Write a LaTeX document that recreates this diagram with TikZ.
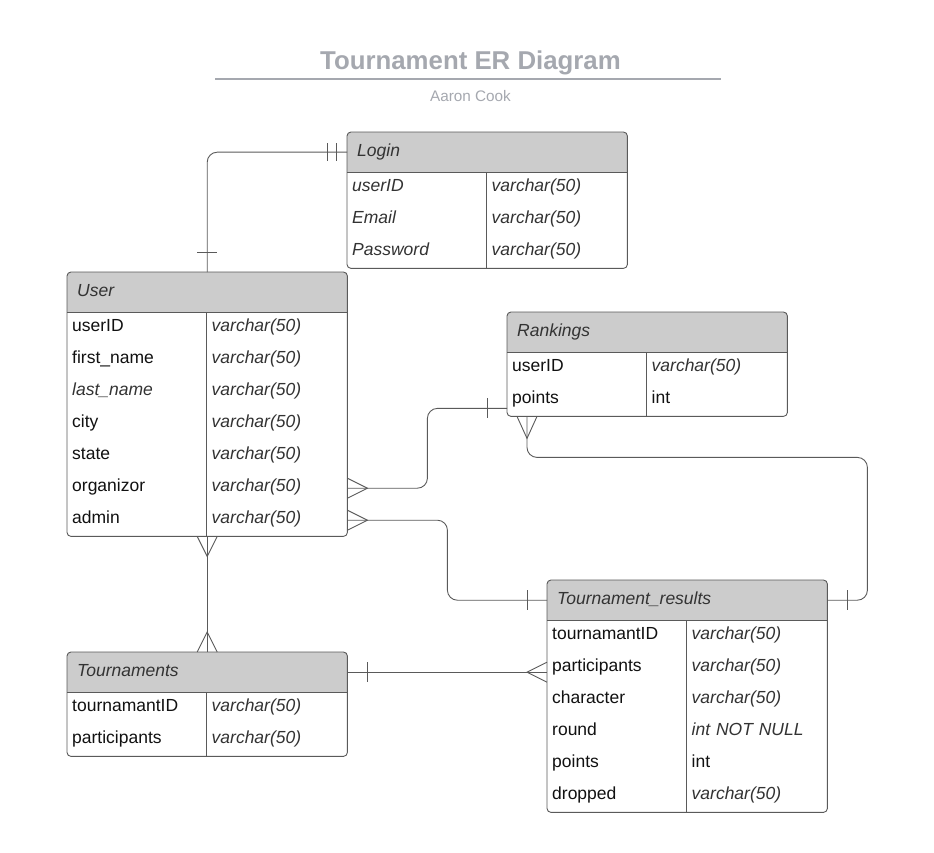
\documentclass[tikz,border=0pt]{standalone}
\usepackage{fontspec}
\setmainfont{Liberation Sans}
\usetikzlibrary{calc}
\definecolor{hdrgray}{HTML}{CCCCCC}
\definecolor{linegray}{HTML}{5A5A5A}
\definecolor{titlegray}{HTML}{A5A8AF}
\definecolor{txtdark}{HTML}{333333}
\definecolor{txtblack}{HTML}{111111}
\tikzset{
  tbl/.style={rectangle, fill=white, minimum width=280pt, inner sep=0pt},
  tblline/.style={draw=linegray, line width=0.9pt},
  hdrbox/.style={rectangle, minimum height=40pt, text width=260pt, inner xsep=10pt, inner ysep=0pt, align=left,
     text height=12.5pt, text depth=4.5pt, font=\fontsize{17.5}{20}\selectfont\itshape, text=txtdark},
  cellbox/.style={rectangle, minimum height=32pt, text width=129pt, inner xsep=5pt, inner ysep=0pt, align=left,
     text height=12pt, text depth=5pt},
  nm/.style={font=\fontsize{17.5}{20}\selectfont, text=txtblack},
  nmi/.style={font=\fontsize{17.5}{20}\selectfont\itshape, text=txtdark},
  ty/.style={font=\fontsize{17.5}{20}\selectfont\itshape, text=txtdark},
  tyn/.style={font=\fontsize{17.5}{20}\selectfont, text=txtblack},
  conn/.style={draw=linegray, line width=0.9pt},
  titletext/.style={font=\fontsize{25.8}{30}\selectfont\bfseries, text=titlegray, inner sep=0pt},
  subtext/.style={font=\fontsize{15.3}{18}\selectfont, text=titlegray, inner sep=0pt},
}
\newcommand\ertable[4]{% id, position, rows, title
  \node[tbl, minimum height=40pt+32pt*#3, anchor=north west] (#1) at #2 {};
  \begin{scope}
    \clip[rounded corners=4pt] (#1.south west) rectangle (#1.north east);
    \fill[hdrgray] (#1.north west) rectangle ([yshift=-40pt]#1.north east);
  \end{scope}
  \node[hdrbox, anchor=north west] (#1h) at (#1.north west) {#4};
  \draw[tblline] (#1h.south west) -- (#1h.south east);
  \draw[tblline] ([xshift=139.5pt]#1h.south west) -- ([xshift=139.5pt]#1.south west);
  \draw[tblline, rounded corners=4pt] (#1.south west) rectangle (#1.north east);
}
\newcommand\errow[6]{% id, index, name style, name, type style, type
  \node[cellbox, #3, anchor=north west] (#1n#2) at ([yshift=-8pt-32pt*#2]#1.north west) {#4};
  \node[cellbox, #5, anchor=north west] (#1t#2) at ([xshift=139.5pt, yshift=-8pt-32pt*#2]#1.north west) {#6};
}
\begin{document}
\begin{tikzpicture}[x=1pt, y=-1pt]
\useasboundingbox (0,0) rectangle (934,853);

% title
\node[titletext] (title) at (470.5,63) {Tournament ER Diagram};
\draw[draw=titlegray, line width=1.6pt] (215,79) -- (721,79);
\node[subtext] (author) at (470.5,96) {Aaron Cook};

% Login
\ertable{login}{(347,132)}{3}{Login}
\errow{login}{1}{nmi}{userID}{ty}{varchar(50)}
\errow{login}{2}{nmi}{Email}{ty}{varchar(50)}
\errow{login}{3}{nmi}{Password}{ty}{varchar(50)}

% User
\ertable{user}{(67,272)}{7}{User}
\errow{user}{1}{nm}{userID}{ty}{varchar(50)}
\errow{user}{2}{nm}{first\_name}{ty}{varchar(50)}
\errow{user}{3}{nmi}{last\_name}{ty}{varchar(50)}
\errow{user}{4}{nm}{city}{ty}{varchar(50)}
\errow{user}{5}{nm}{state}{ty}{varchar(50)}
\errow{user}{6}{nm}{organizor}{ty}{varchar(50)}
\errow{user}{7}{nm}{admin}{ty}{varchar(50)}

% Rankings
\ertable{rk}{(507,312)}{2}{Rankings}
\errow{rk}{1}{nm}{userID}{ty}{varchar(50)}
\errow{rk}{2}{nm}{points}{tyn}{int}

% Tournaments
\ertable{tn}{(67,652)}{2}{Tournaments}
\errow{tn}{1}{nm}{tournamantID}{ty}{varchar(50)}
\errow{tn}{2}{nm}{participants}{ty}{varchar(50)}

% Tournament_results
\ertable{tr}{(547,580)}{6}{Tournament\_results}
\errow{tr}{1}{nm}{tournamantID}{ty}{varchar(50)}
\errow{tr}{2}{nm}{participants}{ty}{varchar(50)}
\errow{tr}{3}{nm}{character}{ty}{varchar(50)}
\errow{tr}{4}{nm}{round}{ty}{int NOT NULL}
\errow{tr}{5}{nm}{points}{tyn}{int}
\errow{tr}{6}{nm}{dropped}{ty}{varchar(50)}

% ---------- connectors ----------
% User -- Login
\draw[conn, rounded corners=10pt] (user.north) |- (loginh.west);
\draw[conn] ([xshift=-10pt, yshift=20pt]user.north) -- ([xshift=10pt, yshift=20pt]user.north);
\draw[conn] ([xshift=-20pt, yshift=9pt]loginh.west) -- ([xshift=-20pt, yshift=-9pt]loginh.west);
\draw[conn] ([xshift=-11pt, yshift=9pt]loginh.west) -- ([xshift=-11pt, yshift=-9pt]loginh.west);

% User (organizor) -- Rankings (points)
\coordinate (uorg) at (user.east |- usern6.west);
\coordinate (rkin) at ([yshift=8pt]rk.south west);
\draw[conn, rounded corners=10pt] (uorg) -- ++(80,0) |- (rkin);
\draw[conn] ([yshift=10pt]uorg) -- ([xshift=20pt]uorg) -- ([yshift=-10pt]uorg);
\draw[conn] ([xshift=-20pt, yshift=10pt]rkin) -- ([xshift=-20pt, yshift=-10pt]rkin);

% User (admin) -- Tournament_results
\coordinate (uadm) at (user.east |- usern7.west);
\draw[conn, rounded corners=10pt] (uadm) -- ++(100,0) |- (trh.west);
\draw[conn] ([yshift=10pt]uadm) -- ([xshift=20pt]uadm) -- ([yshift=-10pt]uadm);
\draw[conn] ([xshift=-20pt, yshift=10pt]trh.west) -- ([xshift=-20pt, yshift=-10pt]trh.west);

% Rankings -- Tournament_results
\coordinate (rkbot) at ([xshift=20pt]rk.south west);
\draw[conn, rounded corners=10pt] (rkbot) -- ++(0,41) -| ([xshift=40pt]trh.east) -- (trh.east);
\draw[conn] ([xshift=-10pt]rkbot) -- ([yshift=-22pt]rkbot) -- ([xshift=10pt]rkbot);
\draw[conn] ([xshift=20pt, yshift=10pt]trh.east) -- ([xshift=20pt, yshift=-10pt]trh.east);

% User -- Tournaments
\draw[conn] (user.south) -- (tn.north);
\draw[conn] ([xshift=-10pt]user.south) -- ([yshift=-20pt]user.south) -- ([xshift=10pt]user.south);
\draw[conn] ([xshift=-10pt]tn.north) -- ([yshift=20pt]tn.north) -- ([xshift=10pt]tn.north);

% Tournaments -- Tournament_results
\coordinate (trin) at (tnh.east -| tr.west);
\draw[conn] (tnh.east) -- (trin);
\draw[conn] ([xshift=20pt, yshift=10pt]tnh.east) -- ([xshift=20pt, yshift=-10pt]tnh.east);
\draw[conn] ([yshift=10pt]trin) -- ([xshift=-20pt]trin) -- ([yshift=-10pt]trin);
\end{tikzpicture}
\end{document}
